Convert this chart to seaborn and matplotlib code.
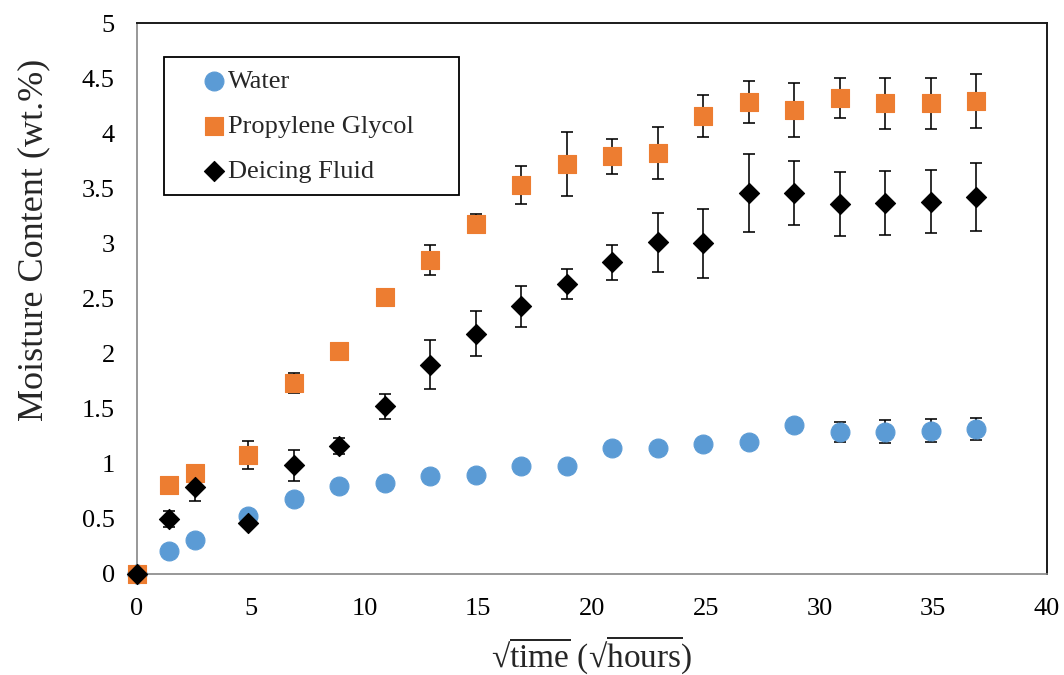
import numpy as np
import pandas as pd
import matplotlib
matplotlib.use("Agg")
import matplotlib.pyplot as plt
import seaborn as sns

# Square root of elapsed time (sqrt hours)
sqrt_time = [0, 1.4, 2.55, 4.9, 6.9, 8.9, 10.9, 12.9, 14.9, 16.9,
             18.9, 20.9, 22.9, 24.9, 26.9, 28.9, 30.9, 32.9, 34.9, 36.9]

# Moisture uptake (wt.%) and standard deviations
water = [0, 0.21, 0.31, 0.53, 0.68, 0.80, 0.83, 0.89, 0.90, 0.98,
         0.98, 1.14, 1.14, 1.18, 1.20, 1.35, 1.29, 1.29, 1.30, 1.315]
water_err = [0, 0, 0, 0, 0, 0, 0, 0, 0, 0,
             0, 0, 0, 0, 0, 0, 0.09, 0.105, 0.105, 0.10]

glycol = [0, 0.81, 0.92, 1.08, 1.73, 2.02, 2.51, 2.85, 3.18, 3.53,
          3.72, 3.79, 3.82, 4.16, 4.28, 4.21, 4.32, 4.27, 4.27, 4.29]
glycol_err = [0, 0, 0, 0.13, 0.09, 0, 0, 0.14, 0.09, 0.17,
              0.29, 0.16, 0.235, 0.19, 0.19, 0.245, 0.18, 0.235, 0.235, 0.245]

deicing = [0, 0.50, 0.79, 0.46, 0.985, 1.16, 1.52, 1.90, 2.18, 2.43,
           2.63, 2.83, 3.01, 3.00, 3.46, 3.46, 3.36, 3.37, 3.38, 3.42]
deicing_err = [0, 0.07, 0.125, 0.03, 0.14, 0.07, 0.11, 0.225, 0.205, 0.185,
               0.135, 0.16, 0.265, 0.31, 0.355, 0.29, 0.29, 0.29, 0.29, 0.31]

series_names = ["Water", "Propylene Glycol", "Deicing Fluid"]
x_ticks = [0, 5, 10, 15, 20, 25, 30, 35, 40]
y_ticks = [0, 0.5, 1, 1.5, 2, 2.5, 3, 3.5, 4, 4.5, 5]
y_tick_labels = ["0", "0.5", "1", "1.5", "2", "2.5", "3", "3.5", "4", "4.5", "5"]

sns.set_style("white")
plt.rcParams["font.family"] = ["Liberation Serif", "DejaVu Serif"]
plt.rcParams["mathtext.fontset"] = "custom"
plt.rcParams["mathtext.rm"] = "Liberation Serif"

frames = []
for name, vals, errs in [("Water", water, water_err),
                         ("Propylene Glycol", glycol, glycol_err),
                         ("Deicing Fluid", deicing, deicing_err)]:
    frames.append(pd.DataFrame({"t": sqrt_time, "mc": vals, "sd": errs, "fluid": name}))
df = pd.concat(frames, ignore_index=True)

colors = {"Water": "#5B9BD5", "Propylene Glycol": "#ED7D31", "Deicing Fluid": "#000000"}
markers = {"Water": "o", "Propylene Glycol": "s", "Deicing Fluid": "D"}
sizes = {"Water": 185, "Propylene Glycol": 185, "Deicing Fluid": 105}

fig = plt.figure(figsize=(10.64, 6.75), dpi=100)
ax = fig.add_axes([137 / 1064, 1 - 574 / 675, (1047 - 137) / 1064, (574 - 23) / 675])

# error bars underneath the markers
for name in series_names:
    sub = df[df["fluid"] == name]
    ax.errorbar(sub["t"], sub["mc"], yerr=sub["sd"], fmt="none",
                ecolor="black", elinewidth=1.15, capsize=4, capthick=1.15, zorder=2)

for name in series_names:
    sub = df[df["fluid"] == name]
    sns.scatterplot(data=sub, x="t", y="mc", ax=ax, color=colors[name],
                    marker=markers[name], s=sizes[name], edgecolor=colors[name],
                    linewidth=0.8, label=name, zorder=3, clip_on=False)

ax.set_xlim(0, 40)
ax.set_ylim(0, 5)
ax.set_xticks(x_ticks)
ax.set_xticklabels([str(v) for v in x_ticks])
ax.set_yticks(y_ticks)
ax.set_yticklabels(y_tick_labels)
ax.tick_params(axis="both", direction="in", length=5, width=1, color="#868686",
               labelsize=19, labelcolor="black")
ax.tick_params(axis="y", pad=16)
ax.tick_params(axis="x", pad=17)

for side in ["left", "bottom"]:
    ax.spines[side].set_color("#868686")
    ax.spines[side].set_linewidth(1.2)
for side in ["top", "right"]:
    ax.spines[side].set_color("#1a1a1a")
    ax.spines[side].set_linewidth(1.4)
    ax.spines[side].set_visible(True)

ax.set_xlabel(r"√$\overline{\mathrm{time}}$ (√$\overline{\mathrm{hours}}$)",
              fontsize=24, labelpad=10)
ax.set_ylabel("Moisture Content (wt.%)", fontsize=26)
ax.yaxis.set_label_coords(-0.095, 0.606)

leg = ax.legend(loc="upper left", bbox_to_anchor=(0.0297, 0.938 - 0.25, 0.324, 0.25),
                mode="expand", borderaxespad=0, fontsize=19, frameon=True,
                fancybox=False, framealpha=1, edgecolor="black",
                handlelength=2.9, handletextpad=-0.93, labelspacing=0.82,
                borderpad=0.45)
leg.get_frame().set_linewidth(1.3)

fig.savefig("out.png", dpi=100)
